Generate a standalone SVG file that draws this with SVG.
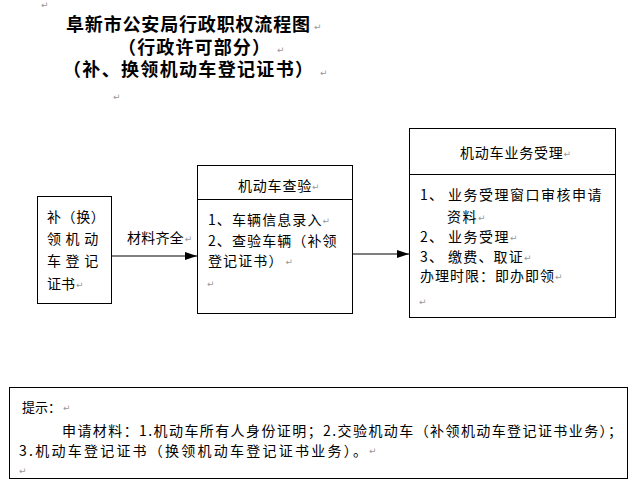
<svg xmlns="http://www.w3.org/2000/svg" width="637" height="488" viewBox="0 0 637 488">
<defs>
<style>
.t{font-family:"Noto Sans CJK SC","DejaVu Sans",sans-serif;font-size:14px;fill:#000}
.h{font-family:"Noto Sans CJK SC",sans-serif;font-size:18px;font-weight:bold;fill:#000}
.p{font-family:"DejaVu Sans",sans-serif;font-size:9px;font-weight:normal;fill:#999;letter-spacing:0}
.box{fill:#fff;stroke:#000;stroke-width:1}
.ln{stroke:#000;stroke-width:1.2;fill:none}
</style>
<marker id="arr" viewBox="0 0 12 8" refX="12" refY="4" markerUnits="userSpaceOnUse" markerWidth="12" markerHeight="8" orient="auto">
<path d="M0,0 L12,4 L0,8 Z" fill="#000"/>
</marker>
</defs>
<rect width="637" height="488" fill="#fff"/>

<g id="title">
<text class="p" x="41" y="8">↵</text>
<text class="h" x="66" y="31" textLength="244" lengthAdjust="spacing">阜新市公安局行政职权流程图</text>
<text class="p" x="314" y="30">↵</text>
<text class="h" x="118" y="53.5" textLength="152" lengthAdjust="spacing">（行政许可部分）</text>
<text class="p" x="277" y="53">↵</text>
<text class="h" x="63" y="76" textLength="250" lengthAdjust="spacing">（补、换领机动车登记证书）</text>
<text class="p" x="320" y="76">↵</text>
<text class="p" x="113" y="100">↵</text>
</g>

<g id="connectors">
<line class="ln" x1="112" y1="256" x2="197" y2="256" marker-end="url(#arr)"/>
<line class="ln" x1="353" y1="254" x2="409" y2="254" marker-end="url(#arr)"/>
<text class="t" x="127" y="243" letter-spacing="0.2">材料齐全<tspan class="p" dx="1" dy="-1">↵</tspan></text>
</g>

<g id="node-start">
<rect class="box" x="37.5" y="196.5" width="74" height="107"/>
<text class="t" x="47" y="221.5" letter-spacing="0.6">补（换）</text>
<text class="t" x="47" y="243.5" letter-spacing="4.6">领机动</text>
<text class="t" x="47" y="265.5" letter-spacing="4.6">车登记</text>
<text class="t" x="47" y="288.5">证书<tspan class="p" dx="1" dy="-1">↵</tspan></text>
</g>

<g id="node-inspect">
<rect class="box" x="197.5" y="165.5" width="155" height="148"/>
<line class="ln" x1="197.5" y1="199.5" x2="352.5" y2="199.5" stroke-width="1"/>
<text class="t" x="238" y="190.5" letter-spacing="0.8">机动车查验<tspan class="p" dy="-1">↵</tspan></text>
<text class="t" x="208" y="224.5" letter-spacing="1.1">1、车辆信息录入<tspan class="p" dy="-1">↵</tspan></text>
<text class="t" x="208" y="245.5" letter-spacing="1.1">2、查验车辆（补领</text>
<text class="t" x="208" y="265.5" letter-spacing="1.1">登记证书）<tspan class="p" dx="2" dy="-1">↵</tspan></text>
<text class="p" x="207" y="287">↵</text>
</g>

<g id="node-accept">
<rect class="box" x="409.5" y="128.5" width="206" height="189"/>
<line class="ln" x1="409.5" y1="174.5" x2="615.5" y2="174.5" stroke-width="1"/>
<text class="t" x="460" y="157.5" letter-spacing="0.8">机动车业务受理<tspan class="p" dy="-1">↵</tspan></text>
<text class="t" x="420" y="200.3" letter-spacing="1.2">1、</text>
<text class="t" x="448" y="200.3" letter-spacing="1.5">业务受理窗口审核申请</text>
<text class="t" x="447" y="221.5" letter-spacing="1.5">资料<tspan class="p" dy="-1">↵</tspan></text>
<text class="t" x="420" y="241.8" letter-spacing="1.2">2、</text>
<text class="t" x="448" y="241.8" letter-spacing="1.5">业务受理<tspan class="p" dy="-1">↵</tspan></text>
<text class="t" x="420" y="262" letter-spacing="1.2">3、</text>
<text class="t" x="448" y="262" letter-spacing="1.2">缴费、取证<tspan class="p" dy="-1">↵</tspan></text>
<text class="t" x="420" y="281" letter-spacing="1">办理时限：即办即领<tspan class="p" dy="-1">↵</tspan></text>
<text class="p" x="419" y="305">↵</text>
</g>

<g id="node-tips">
<rect class="box" x="9.5" y="387.5" width="618" height="91"/>
<text class="t" x="22" y="412" style="font-size:13px">提示：<tspan class="p" dx="2" dy="-1">↵</tspan></text>
<text class="t" x="62" y="436.3" textLength="560" lengthAdjust="spacing">申请材料：1.机动车所有人身份证明；2.交验机动车（补领机动车登记证书业务）；</text>
<text class="t" x="19" y="455.5" textLength="348" lengthAdjust="spacing">3.机动车登记证书（换领机动车登记证书业务）。</text>
<text class="p" x="369" y="454">↵</text>
<text class="p" x="19" y="474">↵</text>
</g>
</svg>
